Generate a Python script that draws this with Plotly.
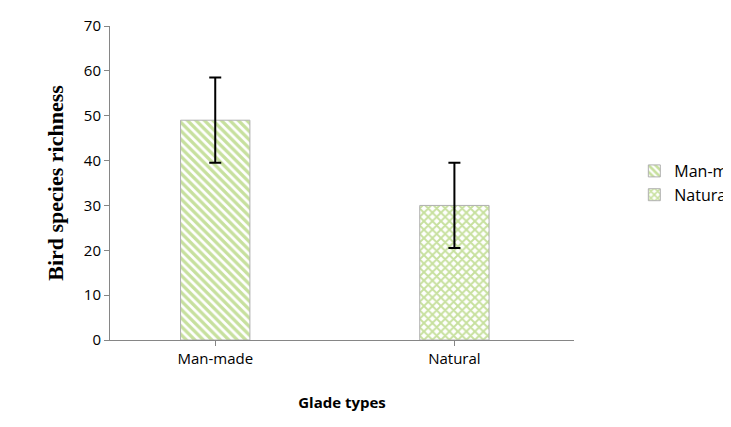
import plotly.graph_objects as go

categories = ["Man-made", "Natural"]
richness = [49, 30]
errors = [9.5, 9.5]
patterns = ["\\", "x"]

fig = go.Figure()
for cat, val, err, pat in zip(categories, richness, errors, patterns):
    fig.add_trace(go.Bar(
        x=[cat], y=[val], name=cat, width=0.29,
        marker=dict(color="white", line=dict(color="#b0b0b0", width=1),
                    pattern=dict(shape=pat, fgcolor="#8fc23e", bgcolor="#ffffff",
                                 size=6, solidity=0.55)),
        error_y=dict(type="data", array=[err], color="black", thickness=2, width=6),
    ))

fig.update_layout(
    width=731, height=427, barmode="overlay",
    margin=dict(l=102, r=731 - 566, t=18, b=427 - 332, autoexpand=False),
    plot_bgcolor="white", paper_bgcolor="white",
    font=dict(family="Open Sans", size=14, color="black"),
    legend=dict(x=1.13, y=0.5, yanchor="middle", font=dict(size=16),
                tracegroupgap=22),
    xaxis=dict(range=[-0.44, 1.5], showline=True, linecolor="#868686",
               ticks="outside", ticklen=5, tickcolor="#868686", automargin=False,
               tickfont=dict(size=15),
               title=dict(text="<b>Glade types</b>", standoff=30,
                          font=dict(size=15))),
    yaxis=dict(range=[0, 70], dtick=10, showline=True, linecolor="#868686",
               ticks="outside", ticklen=5, tickcolor="#868686", showgrid=False,
               zeroline=False, automargin=False, tickfont=dict(size=15),
               title=dict(text="<b>Bird species richness</b>", standoff=14,
                          font=dict(family="Liberation Serif", size=22))),
)

fig.write_html("out.html")
